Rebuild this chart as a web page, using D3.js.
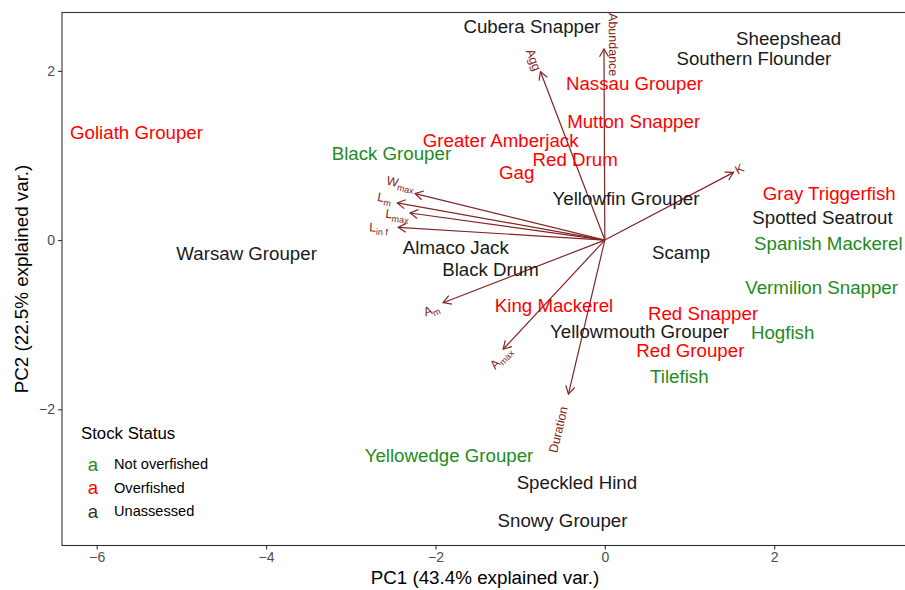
<!DOCTYPE html>
<html>
<head>
<meta charset="utf-8">
<script src="https://cdn.jsdelivr.net/npm/d3@7"></script>
<style>
  body { margin: 0; background: #fff; }
  svg { display: block; font-family: "Liberation Sans", Arial, sans-serif; }
</style>
</head>
<body>
<svg id="chart" width="905" height="590"></svg>
<script>
// ---- data ----
const species = ["Cubera Snapper","Sheepshead","Southern Flounder","Nassau Grouper","Goliath Grouper",
  "Mutton Snapper","Greater Amberjack","Black Grouper","Red Drum","Gag","Yellowfin Grouper",
  "Gray Triggerfish","Spotted Seatrout","Spanish Mackerel","Warsaw Grouper","Almaco Jack","Scamp",
  "Black Drum","Vermilion Snapper","King Mackerel","Red Snapper","Yellowmouth Grouper","Hogfish",
  "Red Grouper","Tilefish","Yellowedge Grouper","Speckled Hind","Snowy Grouper"];
const pc1 = [-0.86, 2.17, 1.76, 0.35, -5.53, 0.34, -1.23, -2.52, -0.35, -1.04, 0.25,
  2.65, 2.57, 2.64, -4.23, -1.76, 0.90, -1.35, 2.56, -0.60, 1.16, 0.41, 2.10,
  1.01, 0.88, -1.84, -0.33, -0.50];
const pc2 = [2.53, 2.39, 2.15, 1.85, 1.28, 1.41, 1.18, 1.03, 0.96, 0.80, 0.49,
  0.55, 0.27, -0.04, -0.15, -0.08, -0.14, -0.35, -0.56, -0.77, -0.86, -1.08, -1.09,
  -1.30, -1.61, -2.54, -2.86, -3.31];
const status = ["U","U","U","O","O","O","O","N","O","O","U",
  "O","U","N","U","U","U","U","N","O","O","U","N",
  "O","N","N","U","U"];

const statusKeys = ["N","O","U"];
const statusLabels = ["Not overfished","Overfished","Unassessed"];
const statusColors = ["#228B22","#FF0000","#1A1A1A"];

const varNames = ["Abundance","Agg","K","Wmax","Lm","Lmax","Linf","Am","Amax","Duration"];
const varX = [-0.01, -0.76, 1.52, -2.24, -2.45, -2.30, -2.44, -1.91, -1.20, -0.43];
const varY = [2.26, 1.99, 0.80, 0.55, 0.44, 0.32, 0.15, -0.74, -1.29, -1.82];
const varLabX = [0.10, -0.84, 1.59, -2.41, -2.60, -2.45, -2.67, -2.05, -1.23, -0.55];
const varLabY = [2.31, 2.13, 0.84, 0.67, 0.50, 0.30, 0.15, -0.82, -1.39, -2.24];
const varMain = ["Abundance","Agg","K","W","L","L","L","A","A","Duration"];
const varSub = ["","","","max","m","max","in f","m","max",""];

const xTicks = [-6, -4, -2, 0, 2];
const yTicks = [-2, 0, 2];
const xTitle = "PC1 (43.4% explained var.)";
const yTitle = "PC2 (22.5% explained var.)";
const legendTitle = "Stock Status";

// ---- layout ----
const svg = d3.select("#chart");
const L = 62, R = 908, T = 12.5, B = 545.5;
const x = d3.scaleLinear().domain([-6.41, 3.58]).range([L, R]);
const y = d3.scaleLinear().domain([-3.61, 2.69]).range([B, T]);
const color = d3.scaleOrdinal().domain(statusKeys).range(statusColors);
const arrowCol = "#832424";

// panel border
svg.append("rect").attr("x", L).attr("y", T).attr("width", R - L).attr("height", B - T)
  .attr("fill", "none").attr("stroke", "#333").attr("stroke-width", 1.1);

// axes
const fmt = d => d < 0 ? "\u2212" + Math.abs(d) : String(d);
const gx = svg.append("g").attr("transform", `translate(0,${B})`)
  .call(d3.axisBottom(x).tickValues(xTicks).tickSize(4).tickPadding(3).tickFormat(fmt));
const gy = svg.append("g").attr("transform", `translate(${L},0)`)
  .call(d3.axisLeft(y).tickValues(yTicks).tickSize(4).tickPadding(3).tickFormat(fmt));
[gx, gy].forEach(g => {
  g.select(".domain").remove();
  g.selectAll(".tick line").attr("stroke", "#333").attr("stroke-width", 1.1);
  g.selectAll(".tick text").attr("fill", "#4D4D4D").style("font-size", "14px")
    .style("font-family", "'Liberation Sans', Arial, sans-serif");
});

svg.append("text").attr("x", (L + R) / 2).attr("y", 584).attr("text-anchor", "middle")
  .style("font-size", "18.8px").attr("fill", "#000").text(xTitle);
svg.append("text").attr("transform", `translate(28,${(T + B) / 2}) rotate(-90)`)
  .attr("text-anchor", "middle").style("font-size", "18.8px").attr("fill", "#000").text(yTitle);

// clip
svg.append("clipPath").attr("id", "clip").append("rect")
  .attr("x", L).attr("y", T).attr("width", R - L).attr("height", B - T);
const plot = svg.append("g").attr("clip-path", "url(#clip)");

// arrows
const x0 = x(0), y0 = y(0);
const arr = plot.append("g");
varNames.forEach((v, i) => {
  const tx = x(varX[i]), ty = y(varY[i]);
  arr.append("line").attr("x1", x0).attr("y1", y0).attr("x2", tx).attr("y2", ty)
    .attr("stroke", arrowCol).attr("stroke-width", 1.2);
  const ang = Math.atan2(ty - y0, tx - x0);
  const hl = 9, ha = Math.PI / 6;
  const p1 = [tx - hl * Math.cos(ang - ha), ty - hl * Math.sin(ang - ha)];
  const p2 = [tx - hl * Math.cos(ang + ha), ty - hl * Math.sin(ang + ha)];
  arr.append("path").attr("d", `M${p1[0]},${p1[1]}L${tx},${ty}L${p2[0]},${p2[1]}`)
    .attr("fill", "none").attr("stroke", arrowCol).attr("stroke-width", 1.2);
  // label, rotated along arrow direction (ggbiplot style)
  const rot = -Math.atan(varY[i] / varX[i]) * 180 / Math.PI;
  const t = arr.append("text")
    .attr("transform", `translate(${x(varLabX[i])},${y(varLabY[i])}) rotate(${rot})`)
    .attr("text-anchor", "middle").attr("dy", "0.35em")
    .attr("fill", arrowCol).style("font-size", "12.5px");
  t.append("tspan").text(varMain[i]);
  if (varSub[i]) {
    t.append("tspan").attr("dy", "0.35em").style("font-size", "9px").text(varSub[i]);
  }
});

// species labels
plot.append("g").selectAll("text").data(species).join("text")
  .attr("x", (d, i) => x(pc1[i])).attr("y", (d, i) => y(pc2[i]))
  .attr("dy", "0.36em").attr("text-anchor", "middle")
  .style("font-size", "18.7px")
  .attr("fill", (d, i) => color(status[i]))
  .text(d => d);

// legend
const lg = svg.append("g");
lg.append("text").attr("x", 81).attr("y", 439).style("font-size", "16.8px").attr("fill", "#000").text(legendTitle);
statusKeys.forEach((k, i) => {
  const yy = 464 + i * 23.5;
  lg.append("text").attr("x", 93).attr("y", yy).attr("dy", "0.36em").attr("text-anchor", "middle")
    .style("font-size", "18.5px").attr("fill", i === 2 ? "#333" : color(k)).text("a");
  lg.append("text").attr("x", 114).attr("y", yy).attr("dy", "0.36em")
    .style("font-size", "14.6px").attr("fill", "#000").text(statusLabels[i]);
});
</script>
</body>
</html>
